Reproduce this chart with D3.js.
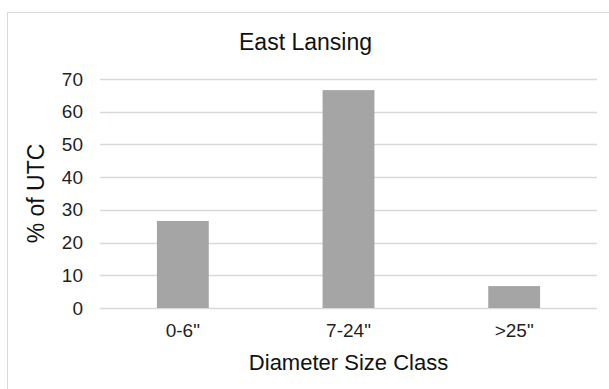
<!DOCTYPE html>
<html>
<head>
<meta charset="utf-8">
<script src="https://cdn.jsdelivr.net/npm/d3@7"></script>
<style>
  html, body { margin: 0; padding: 0; background: #fff; }
  svg { display: block; font-family: "Liberation Sans", Arial, sans-serif; }
</style>
</head>
<body>
<svg id="chart" width="609" height="389"></svg>
<script>
// data
var categories = ["0-6\"", "7-24\"", ">25\""];
var utcPercent = [26.6, 66.6, 6.7];
var yTicks = [0, 10, 20, 30, 40, 50, 60, 70];

var chartTitle = "East Lansing";
var xTitle = "Diameter Size Class";
var yTitle = "% of UTC";

var svg = d3.select("#chart");

var plot = { left: 100, right: 597, top: 79, bottom: 308 };

// chart area border (right and bottom edges fall outside the picture)
svg.append("rect")
	.attr("x", 7.5)
	.attr("y", 12.5)
	.attr("width", 640)
	.attr("height", 420)
	.attr("fill", "#fff")
	.attr("stroke", "#d9d9d9")
	.attr("stroke-width", 1);

var x = d3.scaleBand()
	.domain(categories)
	.range([plot.left, plot.right])
	.paddingInner(0.687)
	.paddingOuter(0.3435);

var y = d3.scaleLinear()
	.domain([0, 70])
	.range([plot.bottom, plot.top]);

// gridlines
svg.append("g")
	.selectAll("line")
	.data(yTicks)
	.enter()
	.append("line")
	.attr("x1", plot.left)
	.attr("x2", plot.right)
	.attr("y1", d => Math.round(y(d)) + 0.5)
	.attr("y2", d => Math.round(y(d)) + 0.5)
	.attr("stroke", "#d9d9d9")
	.attr("stroke-width", 1.3);

// bars
svg.append("g")
	.selectAll("rect")
	.data(utcPercent)
	.enter()
	.append("rect")
	.attr("x", (d, i) => x(categories[i]))
	.attr("y", d => y(d))
	.attr("width", x.bandwidth())
	.attr("height", d => y(0) - y(d))
	.attr("fill", "#a5a5a5");

// y tick labels
var yAxis = d3.axisLeft(y).tickValues(yTicks).tickSize(0).tickPadding(17);
var gy = svg.append("g")
	.attr("transform", "translate(" + plot.left + ",0)")
	.call(yAxis);
gy.select(".domain").remove();
gy.selectAll("text")
	.attr("font-family", "Liberation Sans, Arial, sans-serif")
	.attr("font-size", "19px")
	.attr("fill", "#1f1f1f");

// x tick labels
var xAxis = d3.axisBottom(x).tickSize(0).tickPadding(16);
var gx = svg.append("g")
	.attr("transform", "translate(0," + plot.bottom + ")")
	.call(xAxis);
gx.select(".domain").remove();
gx.selectAll("text")
	.attr("font-family", "Liberation Sans, Arial, sans-serif")
	.attr("font-size", "19px")
	.attr("fill", "#1f1f1f");

// titles
svg.append("text")
	.attr("x", (plot.left + plot.right) / 2 - 43)
	.attr("y", 50)
	.attr("text-anchor", "middle")
	.attr("font-size", "23px")
	.attr("fill", "#111")
	.text(chartTitle);

svg.append("text")
	.attr("x", (plot.left + plot.right) / 2)
	.attr("y", 370)
	.attr("text-anchor", "middle")
	.attr("font-size", "22px")
	.attr("fill", "#111")
	.text(xTitle);

svg.append("text")
	.attr("transform", "translate(44," + ((plot.top + plot.bottom) / 2) + ") rotate(-90)")
	.attr("text-anchor", "middle")
	.attr("font-size", "23px")
	.attr("fill", "#111")
	.text(yTitle);
</script>
</body>
</html>
